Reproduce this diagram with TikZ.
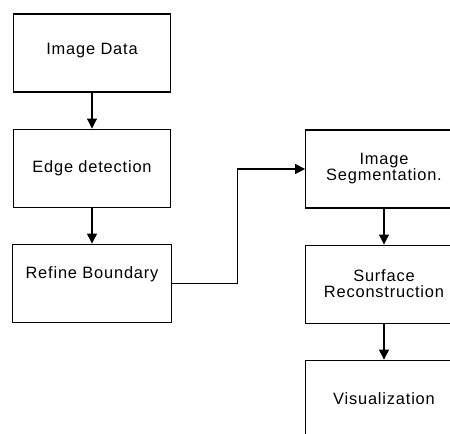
\documentclass[tikz,border=0pt]{standalone}
\usepackage{fontspec}
\setmainfont[LetterSpace=5]{Liberation Sans}
\usetikzlibrary{positioning,arrows.meta}

\tikzset{
  stage/.style={draw, line width=0.9pt, minimum width=4.7cm, minimum height=2.34cm,
    align=center, font=\fontsize{14}{13.6}\selectfont},
  flow/.style={line width=0.9pt, -{Triangle[length=0.3cm,width=0.3cm]}}
}

\begin{document}
\begin{tikzpicture}[node distance=1.08cm]
      \useasboundingbox (-2.76,1.59) rectangle (10.74,-11.43);
      \clip (-2.76,1.59) rectangle (10.74,-11.43);
      \node[stage, text depth=0.25cm] (imgdata) at (0,0) {Image Data};
      \node[stage, below=of imgdata] (edges) {Edge detection};
      \node[stage, below=of edges, minimum width=4.76cm, text depth=0.62cm] (refine) {Refine Boundary};
      \node[stage] (segment) at (8.76,-3.48) {Image\\Segmentation.};
      \node[stage, below=of segment] (surface) {Surface\\Reconstruction};
      \node[stage, below=of surface] (visual) {Visualization};
      \draw[flow] (imgdata) -- (edges);
      \draw[flow] (edges) -- (refine);
      \draw[flow] (refine.east) -- ++(1.98,0) |- (segment.west);
      \draw[flow] (segment) -- (surface);
      \draw[flow] (surface) -- (visual);
    \end{tikzpicture}
\end{document}
